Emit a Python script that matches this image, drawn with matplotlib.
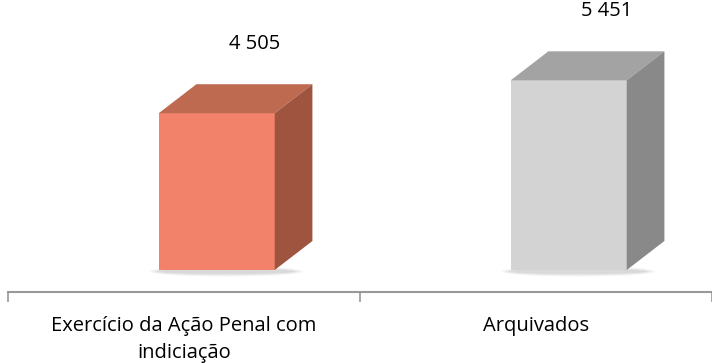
import matplotlib.pyplot as plt
from matplotlib.patches import Polygon, Ellipse

plt.rcParams['font.family'] = ['Open Sans', 'DejaVu Sans']

# dados
categorias = ['Exercício da Ação Penal com\nindiciação', 'Arquivados']
valores = [4505, 5451]
rotulos = ['4 505', '5 451']
cor_frente = ['#F2836A', '#D3D3D3']
cor_topo = ['#BE6A51', '#A3A3A3']
cor_lado = ['#9E543E', '#898989']

W, H = 712, 363
fig = plt.figure(figsize=(W / 100, H / 100), dpi=100)

# eixo: linha base em y=292 px, zero das barras em y=270 px
px_por_cat = 355.0
esc = 0.0348  # px por unidade
ax = fig.add_axes([8 / W, (H - 292) / H, 704 / W, 292 / H])
ax.set_xlim(-0.5, -0.5 + 704 / px_por_cat)
ax.set_ylim(-22 / esc, 270 / esc)

larg = 117 / px_por_cat
desl = 33 / px_por_cat
dx = 38 / px_por_cat
dy = 29 / esc

for i, v in enumerate(valores):
    x0 = i + desl - larg / 2
    x1 = x0 + larg
    # sombra
    for k, a in enumerate([0.06, 0.08, 0.10]):
        ax.add_patch(Ellipse((x0 + larg / 2 + dx / 4, -40), larg + dx * (1.0 - 0.2 * k),
                             300 - 70 * k, color='#555555', alpha=a, lw=0, zorder=1))
    ax.add_patch(Polygon([(x0, 0), (x1, 0), (x1, v), (x0, v)], closed=True,
                         facecolor=cor_frente[i], edgecolor='none', zorder=3))
    ax.add_patch(Polygon([(x0, v), (x1, v), (x1 + dx, v + dy), (x0 + dx, v + dy)], closed=True,
                         facecolor=cor_topo[i], edgecolor='none', zorder=3))
    ax.add_patch(Polygon([(x1, 0), (x1 + dx, dy), (x1 + dx, v + dy), (x1, v)], closed=True,
                         facecolor=cor_lado[i], edgecolor='none', zorder=3))
    ax.text(i + 71 / px_por_cat, v + dy + 40 / esc, rotulos[i], ha='center', va='center',
            fontsize=14.5, color='#000000')
    ax.text(i, -46 / esc, categorias[i], ha='center', va='top', fontsize=14.5,
            color='#000000', linespacing=1.45, multialignment='center', clip_on=False)

for s in ['top', 'right', 'left']:
    ax.spines[s].set_visible(False)
ax.spines['bottom'].set_color('#999999')
ax.spines['bottom'].set_linewidth(1.5)
ax.spines['bottom'].set_position(('data', -22 / esc))
ax.set_yticks([])
ax.set_xticks([-0.5, 0.5, 1.5])
ax.set_xticklabels([])
ax.tick_params(axis='x', direction='out', length=7, width=1.2, color='#999999')
ax.patch.set_alpha(0)

fig.savefig('out.png', dpi=100)
